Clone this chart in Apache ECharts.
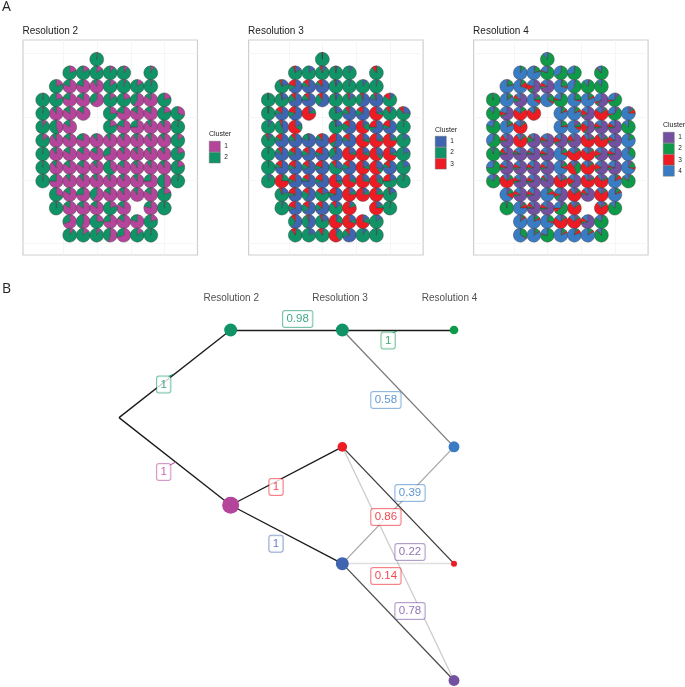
<!DOCTYPE html>
<html>
<head>
<meta charset="utf-8">
<title>Resolution clusters</title>
<style>
  html, body { margin: 0; padding: 0; background: #fff; }
  #main { width: 685px; height: 687px; }
</style>
<script src="https://cdn.jsdelivr.net/npm/echarts@6/dist/echarts.min.js"></script>
</head>
<body>
<div id="main"></div>
<script>
// spot layout: the columns present on each row of the array, top row first
const spotCols = [
  [4],
  [2, 3, 4, 5, 6, 8],
  [1, 2, 3, 4, 5, 6, 7, 8],
  [0, 1, 2, 3, 4, 5, 6, 7, 8, 9],
  [0, 1, 2, 3, 5, 6, 7, 8, 9, 10],
  [0, 1, 2, 5, 6, 7, 8, 9, 10],
  [0, 1, 2, 3, 4, 5, 6, 7, 8, 9, 10],
  [0, 1, 2, 3, 4, 5, 6, 7, 8, 9, 10],
  [0, 1, 2, 3, 4, 5, 6, 7, 8, 9, 10],
  [0, 1, 2, 3, 4, 5, 6, 7, 8, 9, 10],
  [1, 2, 3, 4, 5, 6, 7, 8, 9],
  [1, 2, 3, 4, 5, 6, 8, 9],
  [2, 3, 4, 5, 6, 7, 8],
  [2, 3, 4, 5, 6, 7, 8]
];

// cluster shares per spot, same order as spotCols
const res2Shares = [
  [[.02,.98]],
  [[.2,.8],[.15,.85],[.15,.85],[.1,.9],[.1,.9],[.08,.92]],
  [[.2,.8],[.8,.2],[.8,.2],[.9,.1],[.15,.85],[.05,.95],[.15,.85],[.05,.95]],
  [[.02,.98],[.2,.8],[.8,.2],[.85,.15],[.65,.35],[.15,.85],[.2,.8],[.6,.4],[.85,.15],[.2,.8]],
  [[.02,.98],[.9,.1],[.85,.15],[.85,.15],[.25,.75],[.8,.2],[.85,.15],[.85,.15],[.2,.8],[.3,.7]],
  [[.1,.9],[.45,.55],[.85,.15],[.2,.8],[.8,.2],[.75,.25],[.9,.1],[.9,.1],[.03,.97]],
  [[.15,.85],[.9,.1],[.85,.15],[.8,.2],[.9,.1],[.9,.1],[.9,.1],[.9,.1],[.9,.1],[.9,.1],[.15,.85]],
  [[.02,.98],[.9,.1],[.85,.15],[.85,.15],[.85,.15],[.7,.3],[.9,.1],[.9,.1],[.9,.1],[.9,.1],[.2,.8]],
  [[.02,.98],[.9,.1],[.85,.15],[.85,.15],[.9,.1],[.4,.6],[.85,.15],[.9,.1],[.9,.1],[.9,.1],[.2,.8]],
  [[.02,.98],[.75,.25],[.9,.1],[.9,.1],[.9,.1],[.9,.1],[.9,.1],[.9,.1],[.75,.25],[.5,.5],[.03,.97]],
  [[.3,.7],[.85,.15],[.75,.25],[.6,.4],[.85,.15],[.9,.1],[.9,.1],[.85,.15],[.2,.8]],
  [[.03,.97],[.85,.15],[.85,.15],[.85,.15],[.2,.8],[.85,.15],[.8,.2],[.03,.97]],
  [[.7,.3],[.55,.45],[.25,.75],[.75,.25],[.85,.15],[.8,.2],[.2,.8]],
  [[.1,.9],[.15,.85],[.1,.9],[.55,.45],[.7,.3],[.15,.85],[.03,.97]]
];

const res3Shares = [
  [[.01,.98,.01]],
  [[.15,.8,.05],[.15,.85,0],[.1,.85,.05],[.05,.93,.02],[.08,.92,0],[.02,.88,.1]],
  [[.2,.75,.05],[.65,.15,.2],[.75,.12,.13],[.8,.08,.12],[.1,.88,.02],[.05,.95,0],[.1,.9,0],[.05,.95,0]],
  [[0,.99,.01],[.2,.78,.02],[.7,.2,.1],[.75,.15,.1],[.6,.3,.1],[.1,.88,.02],[.15,.8,.05],[.6,.35,.05],[.8,.15,.05],[.1,.75,.15]],
  [[.02,.97,.01],[.75,.1,.15],[.65,.15,.2],[.15,.1,.75],[.2,.78,.02],[.75,.15,.1],[.7,.15,.15],[.2,.1,.7],[.1,.8,.1],[.25,.65,.1]],
  [[.1,.9,0],[.45,.5,.05],[.2,.15,.65],[.2,.78,.02],[.65,.2,.15],[.15,.2,.65],[.65,.1,.25],[.7,.1,.2],[.03,.97,0]],
  [[.1,.85,.05],[.75,.1,.15],[.75,.15,.1],[.8,.18,.02],[.8,.1,.1],[.55,.12,.33],[.75,.1,.15],[.2,.1,.7],[.2,.08,.72],[.15,.1,.75],[.15,.85,0]],
  [[.02,.98,0],[.8,.1,.1],[.7,.15,.15],[.7,.15,.15],[.7,.1,.2],[.65,.3,.05],[.2,.08,.72],[.2,.1,.7],[.3,.1,.6],[.2,.1,.7],[.2,.8,0]],
  [[.02,.98,0],[.75,.1,.15],[.7,.12,.18],[.7,.15,.15],[.7,.1,.2],[.3,.6,.1],[.7,.15,.15],[.2,.1,.7],[.3,.1,.6],[.75,.1,.15],[.2,.8,0]],
  [[.1,.9,0],[.05,.2,.75],[.7,.1,.2],[.75,.1,.15],[.7,.1,.2],[.25,.1,.65],[.2,.1,.7],[.2,.08,.72],[.15,.2,.65],[.2,.55,.25],[.05,.95,0]],
  [[.2,.75,.05],[.7,.1,.2],[.6,.25,.15],[.2,.65,.15],[.7,.1,.2],[.15,.1,.75],[.15,.1,.75],[.1,.15,.75],[.17,.8,.03]],
  [[.05,.95,0],[.7,.1,.2],[.65,.2,.15],[.7,.15,.15],[.15,.75,.1],[.1,.1,.8],[.15,.1,.75],[.03,.97,0]],
  [[.6,.3,.1],[.55,.4,.05],[.2,.75,.05],[.1,.2,.7],[.2,.1,.7],[.15,.15,.7],[.15,.85,0]],
  [[.05,.85,.1],[.2,.8,0],[.05,.85,.1],[.1,.3,.6],[.7,.2,.1],[.1,.9,0],[.02,.98,0]]
];

const res4Shares = [
  [[.02,.88,0,.1]],
  [[.02,.1,0,.88],[.05,.15,.02,.78],[.05,.75,.02,.18],[.02,.65,0,.33],[.02,.7,0,.28],[.02,.85,.03,.1]],
  [[.05,.15,.02,.78],[.05,.1,.15,.7],[.55,.1,.15,.2],[.7,.05,.1,.15],[.05,.2,.05,.7],[.05,.55,0,.4],[.05,.85,0,.1],[.02,.88,0,.1]],
  [[0,.97,0,.03],[.05,.1,.02,.83],[.7,.1,.08,.12],[.15,.1,.1,.65],[.1,.2,.05,.65],[.05,.7,.05,.2],[.05,.2,.05,.7],[.05,.1,.05,.8],[.6,.05,.05,.3],[.1,.6,.05,.25]],
  [[.05,.85,0,.1],[.65,.05,.1,.2],[.05,.1,.7,.15],[.05,.05,.75,.15],[.05,.1,.05,.8],[.05,.1,.05,.8],[.65,.05,.15,.15],[.1,.05,.7,.15],[.1,.6,.05,.25],[.1,.05,.1,.75]],
  [[.05,.75,0,.2],[.05,.1,.05,.8],[.1,.05,.7,.15],[.05,.15,.05,.75],[.15,.1,.1,.65],[.55,.05,.25,.15],[.7,.05,.1,.15],[.7,.05,.1,.15],[.02,.85,0,.13]],
  [[.05,.6,0,.35],[.7,.05,.15,.1],[.1,.05,.75,.1],[.7,.15,.05,.1],[.7,.05,.1,.15],[.65,.05,.15,.15],[.7,.05,.15,.1],[.15,.05,.7,.1],[.15,.05,.72,.08],[.7,.05,.1,.15],[.05,.15,0,.8]],
  [[.05,.9,0,.05],[.75,.05,.1,.1],[.75,.05,.05,.15],[.75,.05,.05,.15],[.7,.05,.1,.15],[.1,.1,.1,.7],[.1,.05,.7,.15],[.1,.05,.72,.13],[.65,.05,.15,.15],[.7,.05,.1,.15],[.05,.3,0,.65]],
  [[.05,.7,0,.25],[.7,.05,.1,.15],[.7,.05,.1,.15],[.7,.05,.1,.15],[.7,.05,.1,.15],[.1,.1,.1,.7],[.1,.35,.45,.1],[.1,.05,.72,.13],[.65,.05,.15,.15],[.7,.05,.05,.2],[.1,.15,.05,.7]],
  [[.1,.75,0,.15],[.1,.08,.72,.1],[.7,.05,.1,.15],[.7,.05,.1,.15],[.8,.05,.05,.1],[.15,.05,.7,.1],[.6,.05,.2,.15],[.15,.05,.7,.1],[.15,.05,.7,.1],[.05,.05,.1,.8],[.05,.8,.02,.13]],
  [[.1,.1,.15,.65],[.7,.05,.1,.15],[.7,.05,.1,.15],[.05,.1,.1,.75],[.6,.1,.1,.2],[.1,.05,.75,.1],[.75,.05,.1,.1],[.1,.05,.75,.1],[.05,.1,.05,.8]],
  [[.02,.95,0,.03],[.1,.05,.1,.75],[.75,.05,.1,.1],[.7,.05,.1,.15],[.1,.55,.1,.25],[.1,.05,.75,.1],[.1,.05,.75,.1],[.03,.85,0,.12]],
  [[.05,.05,.05,.85],[.05,.1,.05,.8],[.05,.2,.05,.7],[.1,.05,.7,.15],[.1,.05,.72,.13],[.7,.05,.1,.15],[.05,.8,0,.15]],
  [[.02,.3,.02,.66],[.05,.1,.02,.83],[.02,.75,.02,.21],[.05,.1,.05,.8],[.05,.05,.1,.8],[.02,.1,.05,.83],[.02,.85,.03,.1]]
];

// tree: level on x (1 = root), row on y
const nodeNames = ['root', 'r2a', 'r2b', 'r3a', 'r3b', 'r3c', 'r4a', 'r4b', 'r4c', 'r4d'];
const nodeLevel = [1, 2, 2, 3, 3, 3, 4, 4, 4, 4];
const nodeRow = [1.75, 1, 2.5, 1, 2, 3, 1, 2, 3, 4];
const nodeSpots = [0, 42, 72, 42, 23, 42, 19, 30, 9, 30];
const nodeColorKey = ['none', 'teal', 'pink', 'teal', 'red', 'blue', 'green', 'sky', 'red', 'purple'];

const edgeFrom = ['root', 'root', 'r2a', 'r2b', 'r2b', 'r3a', 'r3a', 'r3b', 'r3b', 'r3c', 'r3c', 'r3c'];
const edgeTo = ['r2a', 'r2b', 'r3a', 'r3b', 'r3c', 'r4a', 'r4b', 'r4c', 'r4d', 'r4b', 'r4c', 'r4d'];
const edgeWeight = [1, 1, 0.98, 1, 1, 1, 0.58, 0.86, 0.22, 0.39, 0.14, 0.78];

const edgeLabelText = ['1', '1', '0.98', '1', '1', '1', '0.58', '0.86', '0.22', '0.39', '0.14', '0.78'];
const edgeLabelX = [1.40, 1.40, 2.60, 2.406, 2.406, 3.41, 3.39, 3.39, 3.606, 3.606, 3.39, 3.606];
const edgeLabelY = [1.467, 2.215, 0.906, 2.344, 2.83, 1.09, 1.60, 2.60, 2.90, 2.395, 3.106, 3.405];
const edgeLabelKey = ['teal', 'pink', 'teal', 'red', 'blue', 'green', 'sky', 'red', 'purple', 'sky', 'red', 'purple'];

// column headings over the tree
const levelText = ['Resolution 2', 'Resolution 3', 'Resolution 4'];
const levelTextX = [2.005, 2.98, 3.96];
const levelTextY = [0.726, 0.726, 0.726];

// small ticks joining a few labels to their edge
const leaderX = [[1.44, 1.49], [1.44, 1.51], [3.445, 3.49]];
const leaderY = [[1.40, 1.377], [2.164, 2.13], [1.026, 1.009]];
const leaderKey = ['teal', 'pink', 'green'];

const colors = {
  pink: '#b5459b', teal: '#0f9367', blue: '#3f64b0', red: '#ed1c24',
  purple: '#7451a0', green: '#0f9a4a', sky: '#3a7cc4', none: '#222'
};

const panels = [
  { title: 'Resolution 2', shares: res2Shares, keys: ['pink', 'teal'], left: 23, legendLeft: 209, legendTop: 141, titleTop: 130.5 },
  { title: 'Resolution 3', shares: res3Shares, keys: ['blue', 'teal', 'red'], left: 248.6, legendLeft: 435, legendTop: 136, titleTop: 126.5 },
  { title: 'Resolution 4', shares: res4Shares, keys: ['purple', 'green', 'red', 'sky'], left: 473.6, legendLeft: 663, legendTop: 132, titleTop: 121.5 }
];
const gridLinesX = [1.53, 4.03, 6.53, 9.03];
const gridLinesY = [-0.44, 4.25, 8.94, 13.6];

const textFont = '"Liberation Sans", Arial, sans-serif';

// one wedge of one spot's pie
const renderWedge = (params, api) => {
  const c = api.coord([api.value(0), api.value(1)]);
  const start = -Math.PI / 2 + api.value(2) * Math.PI * 2;
  const end = -Math.PI / 2 + api.value(3) * Math.PI * 2;
  return {
    type: 'sector',
    shape: { cx: c[0], cy: c[1], r: 7, r0: 0, startAngle: start, endAngle: end, clockwise: true },
    style: { fill: api.visual('color'), stroke: '#3a3a3a', lineWidth: 0.4 }
  };
};

const renderLeader = (params, api) => {
  const a = api.coord([api.value(0), api.value(1)]);
  const b = api.coord([api.value(2), api.value(3)]);
  return {
    type: 'line',
    shape: { x1: a[0], y1: a[1], x2: b[0], y2: b[1] },
    style: { stroke: colors[leaderKey[params.dataIndex]], lineWidth: 1 }
  };
};

// cut every spot into [col, row, from, to] wedges for one cluster
const wedgesFor = (shares, k) => {
  const out = [];
  shares.forEach((row, r) => {
    row.forEach((spot, i) => {
      const total = spot.reduce((a, b) => a + b, 0);
      const from = spot.slice(0, k).reduce((a, b) => a + b, 0) / total;
      if (spot[k] > 0) out.push([spotCols[r][i], r, from, from + spot[k] / total]);
    });
  });
  return out;
};

const getOption = () => {
  const bigLetter = { fontSize: 14, fontWeight: 'normal', color: '#222', fontFamily: '"Open Sans", sans-serif' };
  const title = [
    { text: 'A', left: 2, top: 0, padding: 0, textStyle: bigLetter },
    { text: 'B', left: 2, top: 282, padding: 0, textStyle: bigLetter }
  ];
  const grid = [], xAxis = [], yAxis = [], legend = [], series = [];

  panels.forEach((p, idx) => {
    title.push({ text: p.title, left: p.left - 0.5, top: 26, padding: 0, textStyle: { fontSize: 10, fontWeight: 'normal', color: '#222', fontFamily: textFont } });
    title.push({ text: 'Cluster', left: p.legendLeft, top: p.titleTop, padding: 0, textStyle: { fontSize: 7, fontWeight: 'normal', color: '#222', fontFamily: textFont } });
    grid.push({ left: p.left, top: 40, width: 174.5, height: 215, show: true, borderColor: '#cfcfcf', borderWidth: 1.2, backgroundColor: '#fff' });
    xAxis.push({ gridIndex: idx, type: 'value', min: -1.46, max: 11.46, show: false, splitLine: { show: false } });
    yAxis.push({ gridIndex: idx, type: 'value', min: -1.43, max: 14.47, inverse: true, show: false, splitLine: { show: false } });

    // faint panel lines, behind the pies
    series.push({
      type: 'line', xAxisIndex: idx, yAxisIndex: idx, data: [], silent: true, z: 1,
      markLine: {
        silent: true, symbol: 'none', animation: false, label: { show: false }, z: 1,
        lineStyle: { color: '#f4f4f4', width: 0.8, type: 'solid' },
        data: gridLinesX.map(v => ({ xAxis: v })).concat(gridLinesY.map(v => ({ yAxis: v })))
      }
    });

    const names = p.keys.map((key, k) => p.title + ' / ' + (k + 1));
    p.keys.forEach((key, k) => {
      series.push({
        name: names[k],
        type: 'custom',
        xAxisIndex: idx,
        yAxisIndex: idx,
        z: 3,
        clip: false,
        silent: true,
        itemStyle: { color: colors[key] },
        renderItem: renderWedge,
        encode: { x: 0, y: 1 },
        data: wedgesFor(p.shares, k)
      });
    });
    legend.push({
      data: names,
      orient: 'vertical',
      left: p.legendLeft,
      top: p.legendTop,
      padding: 0,
      itemGap: 0,
      itemWidth: 11,
      itemHeight: 10.6,
      icon: 'rect',
      selectedMode: false,
      itemStyle: { borderColor: '#666', borderWidth: 0.5 },
      textStyle: { fontSize: 6.5, color: '#222', fontFamily: textFont, padding: [0, 0, 0, -1] },
      formatter: name => name.split(' / ')[1]
    });
  });

  // tree at the bottom
  grid.push({ left: 119, right: 231, top: 330, bottom: 6.5 });
  xAxis.push({ gridIndex: 3, type: 'value', min: 1, max: 4, show: false, splitLine: { show: false } });
  yAxis.push({ gridIndex: 3, type: 'value', min: 1, max: 4, inverse: true, show: false, splitLine: { show: false } });

  series.push({
    type: 'graph',
    coordinateSystem: 'cartesian2d',
    xAxisIndex: 3,
    yAxisIndex: 3,
    layout: 'none',
    silent: true,
    z: 2,
    label: { show: false },
    data: nodeNames.map((name, i) => ({
      name: name,
      value: [nodeLevel[i], nodeRow[i]],
      symbolSize: Math.sqrt(nodeSpots[i]) * 2,
      itemStyle: { color: colors[nodeColorKey[i]] }
    })),
    links: edgeFrom.map((s, i) => ({
      source: s,
      target: edgeTo[i],
      lineStyle: { color: 'rgba(25,25,25,' + edgeWeight[i] + ')', width: 1.3, curveness: 0, opacity: 1 }
    }))
  });

  series.push({
    type: 'custom',
    xAxisIndex: 3,
    yAxisIndex: 3,
    clip: false,
    silent: true,
    z: 3,
    renderItem: renderLeader,
    encode: { x: [0, 2], y: [1, 3] },
    data: leaderX.map((xs, i) => [xs[0], leaderY[i][0], xs[1], leaderY[i][1]])
  });

  series.push({
    type: 'scatter',
    xAxisIndex: 3,
    yAxisIndex: 3,
    clip: false,
    silent: true,
    symbolSize: 1,
    itemStyle: { color: 'rgba(0,0,0,0)' },
    z: 4,
    data: levelText.map((t, i) => ({
      value: [levelTextX[i], levelTextY[i]],
      label: { show: true, position: 'inside', formatter: t, fontSize: 10, fontFamily: textFont, color: '#222' }
    }))
  });

  series.push({
    type: 'scatter',
    xAxisIndex: 3,
    yAxisIndex: 3,
    clip: false,
    silent: true,
    symbolSize: 1,
    itemStyle: { color: 'rgba(0,0,0,0)' },
    z: 4,
    data: edgeLabelText.map((t, i) => ({
      value: [edgeLabelX[i], edgeLabelY[i]],
      label: {
        show: true,
        position: 'inside',
        formatter: t,
        fontSize: 11.5,
        fontFamily: textFont,
        color: colors[edgeLabelKey[i]],
        backgroundColor: '#fff',
        borderColor: colors[edgeLabelKey[i]] + 'b0',
        borderWidth: 1,
        borderRadius: 2,
        padding: [2.5, 3.5, 1.5, 3.5]
      }
    }))
  });

  return { animation: false, backgroundColor: '#fff', title, grid, xAxis, yAxis, legend, series };
};

const myChart = echarts.init(document.getElementById('main'), null, { renderer: 'canvas' });
myChart.setOption(getOption());
</script>
</body>
</html>
